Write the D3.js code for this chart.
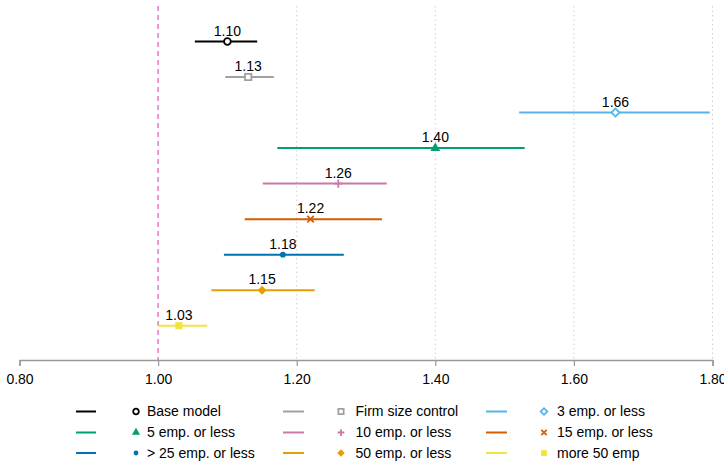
<!DOCTYPE html>
<html><head><meta charset="utf-8">
<script src="https://cdn.jsdelivr.net/npm/d3@7"></script>
<style>body{margin:0;background:#fff}svg{display:block;font-family:"Liberation Sans",Arial,sans-serif}</style>
</head><body><svg id="c" width="724" height="464"></svg>
<script>
const models = ["Base model","Firm size control","3 emp. or less","5 emp. or less","10 emp. or less","15 emp. or less","> 25 emp. or less","50 emp. or less","more 50 emp"];
const estimates = [1.10,1.13,1.66,1.40,1.26,1.22,1.18,1.15,1.03];
const ciLow =  [1.053,1.097,1.521,1.172,1.151,1.125,1.095,1.077,1.000];
const ciHigh = [1.143,1.167,1.796,1.529,1.330,1.323,1.268,1.226,1.071];
const labels = ["1.10","1.13","1.66","1.40","1.26","1.22","1.18","1.15","1.03"];
const colors = ["#000000","#a0a0a0","#56b4e9","#009e73","#cc79a7","#d55e00","#0072b2","#e69f00","#f0e442"];
const markers = ["circleOpen","squareOpen","diamondOpen","triangle","plus","cross","circle","diamond","square"];
const xTicks = [0.8,1.0,1.2,1.4,1.6,1.8];
const refValue = 1.0;

const svg = d3.select("#c");
const x = d3.scaleLinear().domain([0.8,1.8]).range([19.5,712.5]);
const y = d3.scalePoint().domain(models).range([41.5,325.7]);

function marker(g, type, color, s){
  const open = type.endsWith("Open");
  if(type==="plus"||type==="cross"){
    const r = s*0.45;
    const p = type==="plus" ? `M${-r},0L${r},0M0,${-r}L0,${r}` : `M${-r*0.8},${-r*0.8}L${r*0.8},${r*0.8}M${-r*0.8},${r*0.8}L${r*0.8},${-r*0.8}`;
    g.append("path").attr("d",p).attr("stroke",color).attr("stroke-width",1.8).attr("fill","none");
    return;
  }
  const k = s/9;
  let sym, size, rot = 0;
  if(type==="circleOpen"){sym=d3.symbolCircle;size=36;}
  else if(type==="circle"){sym=d3.symbolCircle;size=26;}
  else if(type==="squareOpen"){sym=d3.symbolSquare;size=40;}
  else if(type==="square"){sym=d3.symbolSquare;size=50;}
  else if(type==="diamondOpen"){sym=d3.symbolSquare;size=32;rot=45;}
  else if(type==="diamond"){sym=d3.symbolSquare;size=40;rot=45;}
  else if(type==="triangle"){sym=d3.symbolTriangle;size=42;}
  g.append("path").attr("d",d3.symbol().type(sym).size(size*k*k)())
    .attr("transform",`rotate(${rot})`)
    .attr("fill",open?"#fff":color).attr("stroke",color).attr("stroke-width",open?1.8:0);
}

// grid
svg.append("g").selectAll("line").data(xTicks.filter(t=>t>1.0)).join("line")
  .attr("x1",d=>x(d)).attr("x2",d=>x(d)).attr("y1",6).attr("y2",360)
  .attr("stroke","#d0d0d0").attr("stroke-width",1).attr("stroke-dasharray","1.5,3");
// ref line
svg.append("line").attr("x1",x(refValue)).attr("x2",x(refValue)).attr("y1",6).attr("y2",360)
  .attr("stroke","#e377c2").attr("stroke-width",1.5).attr("stroke-dasharray","5,4");

// axis
const ax = svg.append("g").attr("transform","translate(0,360)")
  .call(d3.axisBottom(x).tickValues(xTicks).tickFormat(d3.format(".2f")).tickSizeOuter(0).tickSize(6));
ax.select(".domain").attr("stroke","#999").attr("stroke-width",1.5);
ax.selectAll(".tick line").attr("stroke","#999").attr("stroke-width",1.2);
ax.selectAll(".tick text").attr("font-size",14).attr("fill","#000").attr("dy","1.1em")
  .attr("font-family","'Liberation Sans',Arial,sans-serif");

// CIs
const rows = svg.append("g");
models.forEach((m,i)=>{
  const g = rows.append("g");
  g.append("line").attr("x1",x(ciLow[i])).attr("x2",x(ciHigh[i])).attr("y1",y(m)).attr("y2",y(m))
    .attr("stroke",colors[i]).attr("stroke-width",2);
  const mg = g.append("g").attr("transform",`translate(${x(estimates[i])},${y(m)})`);
  marker(mg, markers[i], colors[i], 9);
  g.append("text").attr("x",x(estimates[i])).attr("y",y(m)-6).attr("text-anchor","middle")
    .attr("font-size",14).attr("fill","#000").text(labels[i]);
});

// legend
const colX = [[76,96,136,147],[283,304,341,355.5],[486,507,544,557]];
const rowY = [411.5,432.5,453];
models.forEach((m,i)=>{
  const c = i%3, r = Math.floor(i/3);
  const g = svg.append("g");
  g.append("line").attr("x1",colX[c][0]).attr("x2",colX[c][1]).attr("y1",rowY[r]).attr("y2",rowY[r])
    .attr("stroke",colors[i]).attr("stroke-width",2);
  const mg = g.append("g").attr("transform",`translate(${colX[c][2]},${rowY[r]})`);
  marker(mg, markers[i], colors[i], 7.5);
  g.append("text").attr("x",colX[c][3]).attr("y",rowY[r]).attr("dy","0.35em")
    .attr("font-size",14).attr("fill","#000").text(m);
});
</script></body></html>
